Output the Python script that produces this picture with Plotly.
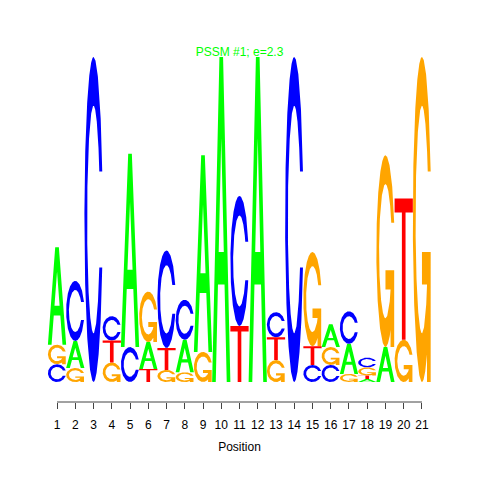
import numpy as np
import plotly.graph_objects as go

# ---------------- data (letter heights in bits) ----------------
positions = list(range(1, 22))
bits_A = [0.60, 0.166, 0, 0, 1.19, 0.166, 0, 0.20, 1.21, 2.0, 0, 2.0, 0, 0, 0, 0.14, 0.185, 0.018, 0.215, 0, 0]
bits_C = [0.11, 0.37, 2.0, 0.15, 0.215, 0, 0.60, 0.246, 0, 0, 0.80, 0, 0.155, 2.0, 0.105, 0.105, 0.20, 0.06, 0, 0, 0]
bits_G = [0.12, 0.086, 0, 0.12, 0, 0.31, 0.074, 0.06, 0.185, 0, 0, 0, 0.135, 0, 0.58, 0.11, 0.05, 0.05, 1.18, 0.26, 2.0]
bits_T = [0, 0, 0, 0.135, 0, 0.08, 0.135, 0, 0, 0, 0.345, 0, 0.14, 0, 0.115, 0, 0, 0.022, 0, 0.87, 0]
tick_labels = [str(p) for p in positions]
title_text = "PSSM #1; e=2.3"
x_title = "Position"

colors = {"A": "#00FF00", "C": "#0000FF", "G": "#FFA500", "T": "#FF0000"}


# ---------------- glyph outlines in a unit box ----------------
def signed_area(pts):
    x = np.array([p[0] for p in pts])
    y = np.array([p[1] for p in pts])
    return 0.5 * np.sum(x * np.roll(y, -1) - np.roll(x, -1) * y)


def orient(pts, ccw=True):
    if (signed_area(pts) > 0) != ccw:
        pts = pts[::-1]
    return pts


def c_outline():
    a1 = np.linspace(0.3 + np.pi / 2, np.pi, 100)
    a2 = np.linspace(np.pi, 1.5 * np.pi, 100)
    yl1 = 0.5 + 0.5 * np.cos(a1)
    xl = np.concatenate([0.5 + 0.5 * np.sin(a1), 0.5 + 0.5 * np.sin(a2)])
    yl = np.concatenate([yl1, 0.5 + 0.5 * np.cos(a2)])
    x = np.concatenate([xl, xl[::-1]])
    y = np.concatenate([yl, 1 - yl[::-1]])
    hmax = yl1.max()
    xi1 = 0.5 + 0.35 * np.sin(a1)
    yi1 = 0.5 + 0.35 * np.cos(a1)
    m = yi1 <= hmax
    xi1 = xi1[m]
    yi1 = yi1[m].copy()
    yi1[0] = hmax
    xi2 = 0.5 + 0.35 * np.sin(a2)
    yi2 = 0.5 + 0.35 * np.cos(a2)
    xi = np.concatenate([xi1, xi2])
    yi = np.concatenate([yi1, yi2])
    x1 = np.concatenate([xi, xi[::-1]])
    y1 = np.concatenate([yi, 1 - yi[::-1]])
    x = np.concatenate([x, x1[::-1]])
    y = np.concatenate([y, y1[::-1]])
    return list(zip(x, y)), float(0.5 + 0.5 * np.cos(0.3))


def glyph(letter):
    """Return list of polygons (outer ccw, holes cw) in unit coordinates."""
    if letter == "A":
        outer = [(0, 0), (0.4, 1), (0.6, 1), (1, 0), (0.8, 0), (0.68, 0.3),
                 (0.32, 0.3), (0.2, 0), (0, 0)]
        hole = [(0.36, 0.4), (0.5, 0.75), (0.64, 0.4), (0.36, 0.4)]
        return [orient(outer, True), orient(hole, False)]
    if letter == "T":
        t = [(0, 1), (1, 1), (1, 0.9), (0.6, 0.9), (0.6, 0), (0.4, 0), (0.4, 0.9), (0, 0.9)]
        return [orient(t, True)]
    cpts, r1 = c_outline()
    if letter == "C":
        return [orient(cpts, True)]
    h1 = 0.4
    bar = [(r1, h1), (0.5, h1), (0.5, h1 - 0.1), (r1 - 0.2, h1 - 0.1),
           (r1 - 0.2, 0), (r1, 0), (r1, h1)]
    return [orient(cpts, True), orient(bar, True)]


glyphs = {L: glyph(L) for L in "ACGT"}

# ---------------- stack letters ----------------
heights = {"A": bits_A, "C": bits_C, "G": bits_G, "T": bits_T}
paths = {L: ([], []) for L in "ACGT"}
for i, pos in enumerate(positions):
    col = sorted([(heights[L][i], L) for L in "ACGT" if heights[L][i] > 0])
    base = 0.0
    for h, L in col:
        xs, ys = paths[L]
        for poly in glyphs[L]:
            for ux, uy in poly:
                xs.append(pos - 0.5 + ux)
                ys.append(base + h * uy)
            xs.append(None)
            ys.append(None)
        base += h

fig = go.Figure()
for L in "ACGT":
    xs, ys = paths[L]
    fig.add_trace(go.Scatter(
        x=xs, y=ys, mode="lines", fill="toself", fillcolor=colors[L],
        line=dict(width=0, color=colors[L]), hoverinfo="skip", showlegend=False,
    ))

font = "Liberation Sans, Arial, Helvetica, sans-serif"
fig.update_layout(
    width=480, height=480,
    margin=dict(l=39, r=56, t=49, b=86),
    paper_bgcolor="white", plot_bgcolor="white",
    font=dict(family=font, size=12, color="black"),
    title=dict(text=title_text, x=0.5, xref="paper", xanchor="center",
               y=1 - 44 / 480, yref="container", yanchor="middle",
               font=dict(family=font, size=12, color="#00FF00")),
    xaxis=dict(range=[0.45, 21.55], tickvals=positions, ticktext=tick_labels,
               ticks="outside", ticklen=6, tickcolor="#444", tickwidth=1,
               showgrid=False, zeroline=False, showline=False,
               ticklabelstandoff=6,
               title=dict(text=x_title, standoff=11, font=dict(size=12)),
               fixedrange=True),
    yaxis=dict(range=[-0.123, 2.0], showgrid=False, zeroline=False,
               showticklabels=False, showline=False, ticks="", fixedrange=True),
    shapes=[dict(type="line", xref="x", yref="paper", x0=positions[0], x1=positions[-1],
                 y0=0, y1=0, line=dict(color="#444", width=1))],
)

fig.write_html("out.html")
